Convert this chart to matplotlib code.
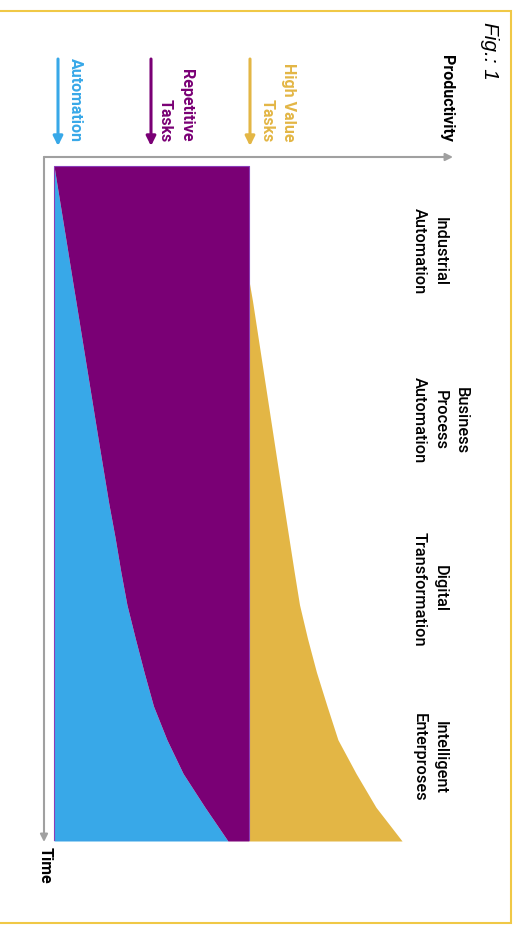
import matplotlib
matplotlib.use("Agg")

import matplotlib.pyplot as plt
from matplotlib.patches import FancyArrowPatch, Rectangle

# Tiempo (0-100) y productividad (la base de tareas = 100)
tiempo = [0, 10, 17, 20, 30, 40, 50, 55, 60, 65, 70, 75, 80, 85, 90, 95, 100]
automatizacion = [0, 5.6, 9.5, 11.2, 16.8, 22.4, 28.1, 31.3, 34.2, 37.4, 41.7,
                  46.2, 51.0, 57.9, 66.2, 77.4, 89.2]
alto_valor = [0, 0, 0, 1.8, 7.1, 12.4, 17.7, 20.4, 23.1, 25.9, 30.0,
              34.6, 40.0, 45.6, 54.9, 65.1, 78.5]
total_repetitivo = 100

etapas = ["Industrial\nAutomation", "Business\nProcess\nAutomation",
          "Digital\nTransformation", "Intelligent\nEnterproses"]
tiempo_etapas = [12.5, 37.5, 62.5, 87.5]

series = ["High Value\nTasks", "Repetitive\nTasks", "Automation"]

c_azul = "#38a8e8"
c_morado = "#7a0075"
c_amarillo = "#e3b645"
c_gris = "#a0a0a0"
c_marco = "#f0c846"

W, H = 516, 928
fig = plt.figure(figsize=(W / 100, H / 100), dpi=100)


def fpx(x, y):
    # pixeles -> fraccion de figura
    return (x / W, 1 - y / H)


# marco exterior
fig.add_artist(Rectangle(fpx(-5, 924), 516 / W, 912 / H, transform=fig.transFigure,
                         fill=False, edgecolor=c_marco, lw=1.5))

# area del grafico (rotado: tiempo hacia abajo, productividad a la derecha)
ax = fig.add_axes([44 / W, 1 - 842 / H, 408 / W, 684 / H])
ax.set_xlim(-10 / 1.95, 398 / 1.95)
ax.set_ylim(100, -9 / 6.75)
ax.axis("off")

ax.fill_betweenx(tiempo, 0, automatizacion, color=c_azul, lw=0)
ax.fill_betweenx(tiempo, automatizacion, total_repetitivo, color=c_morado, lw=0)
ax.fill_betweenx(tiempo, total_repetitivo,
                 [total_repetitivo + v for v in alto_valor], color=c_amarillo, lw=0)
ax.add_patch(Rectangle((0, 0), total_repetitivo, 100, fill=False,
                       edgecolor="#8a3cb8", lw=0.8))

# ejes con flecha
for a, b in [((44, 158), (453, 158)), ((44, 158), (44, 843))]:
    fig.add_artist(FancyArrowPatch(fpx(*a), fpx(*b), transform=fig.transFigure,
                                   arrowstyle="-|>", mutation_scale=11,
                                   color=c_gris, lw=1.5, shrinkA=0, shrinkB=0))

fuente = "Roboto"
fig.text(*fpx(454, 142), "Productivity", rotation=-90, rotation_mode="anchor",
         ha="right", va="top", fontsize=11.5, fontweight="bold", family=fuente)
fig.text(*fpx(45, 847), "Time", rotation=-90, rotation_mode="anchor",
         ha="left", va="center", fontsize=11.5, fontweight="bold", family=fuente)
fig.text(*fpx(499, 22), "Fig.: 1", rotation=-90, rotation_mode="anchor",
         ha="left", va="top", fontsize=15, style="italic", family="Liberation Sans")

# leyenda con flechas
for nombre, color, xf, xt in zip(series, [c_amarillo, c_morado, c_azul],
                                 [250, 151, 58], [296, 194, 83]):
    fig.add_artist(FancyArrowPatch(fpx(xf, 60), fpx(xf, 147), transform=fig.transFigure,
                                   arrowstyle="-|>", mutation_scale=14,
                                   color=color, lw=2.2, shrinkA=0, shrinkB=0))
    fig.text(*fpx(xt, 142), nombre, rotation=-90, rotation_mode="anchor",
             ha="right", va="top", multialignment="right", linespacing=1.5,
             fontsize=11.5, fontweight="bold", color=color, family=fuente)

# etapas a lo largo del tiempo
for nombre, t in zip(etapas, tiempo_etapas):
    ax.text((412 - 54) / 1.95, t, nombre, rotation=-90, rotation_mode="anchor",
            ha="center", va="bottom", multialignment="center", linespacing=1.5,
            fontsize=11.8, fontweight="medium", family=fuente, clip_on=False)

fig.savefig("out.png", dpi=100)
